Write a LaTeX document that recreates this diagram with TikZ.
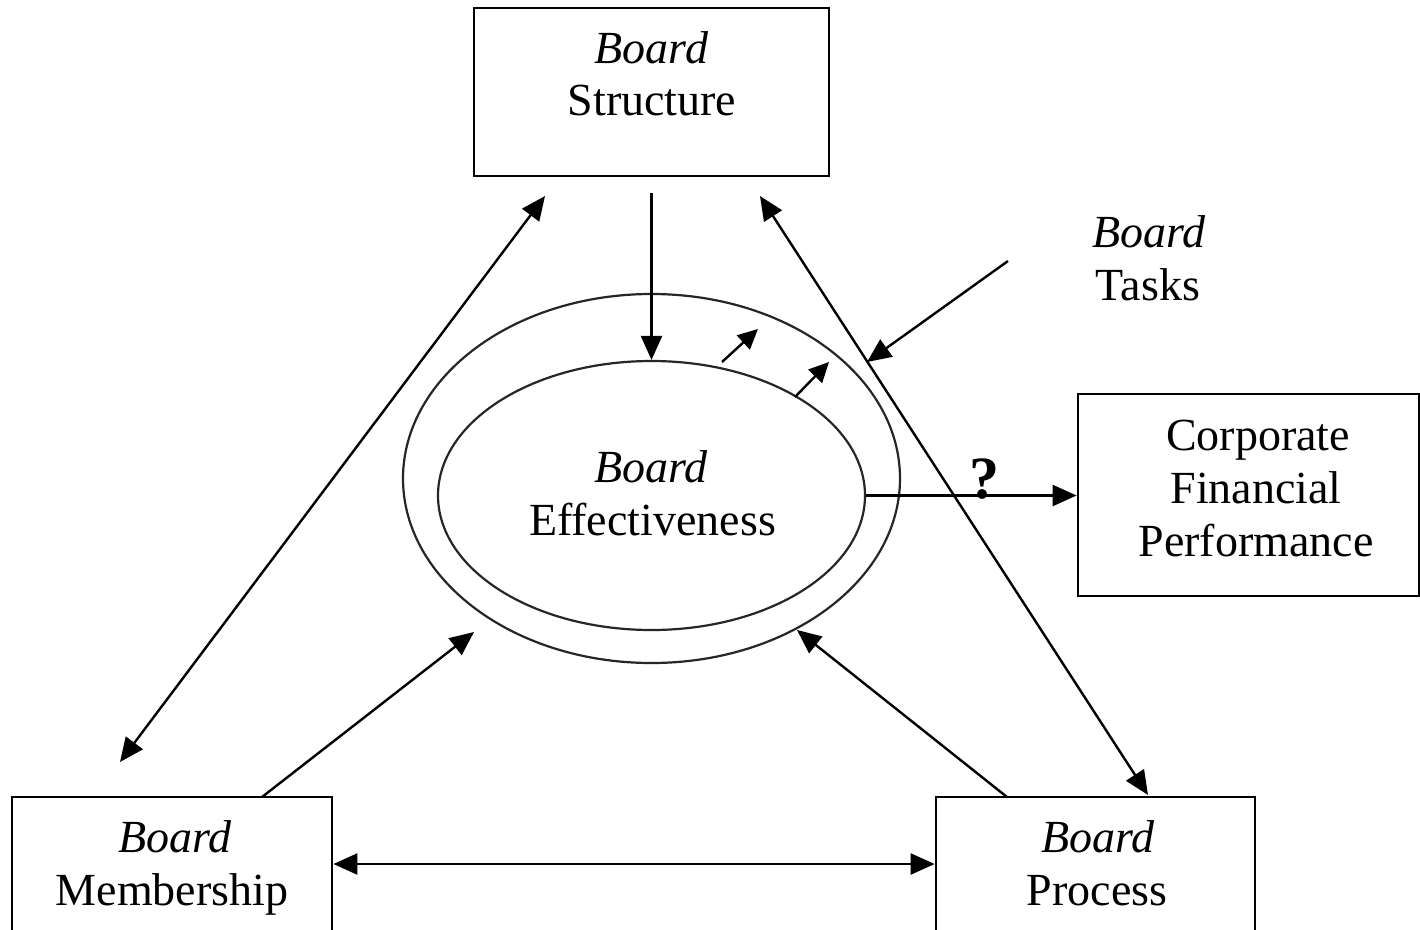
\documentclass[tikz,border=0pt]{standalone}
\usepackage{fontspec}
\setmainfont{Liberation Serif}
\usetikzlibrary{arrows.meta,shapes.geometric}
\begin{document}
\begin{tikzpicture}[x=1pt,y=-1pt,
  box/.style={draw,line width=2.8pt,rectangle,inner sep=0pt},
  lbl/.style={anchor=base,inner sep=0pt,font=\fontsize{46}{53}\selectfont},
  ell/.style={draw=black!85,ellipse,line width=2.2pt,inner sep=0pt},
  con/.style={line width=2.4pt,-{Triangle[length=24pt,width=21pt]}},
  dcon/.style={line width=2.4pt,{Triangle[length=24pt,width=21pt]}-{Triangle[length=24pt,width=21pt]}},
  smallcon/.style={line width=2.4pt,-{Triangle[length=20pt,width=19pt]}}]
\useasboundingbox (0,0) rectangle (1420,929);
\clip (0,0) rectangle (1420,929);
\fill[white] (0,0) rectangle (1420,929);

% boxes
\node[box,minimum width=355pt,minimum height=168pt] (struct) at (651.5,92) {};
\node[box,minimum width=341pt,minimum height=202pt] (corp) at (1248.5,495) {};
\node[box,minimum width=320pt,minimum height=163pt] (mem) at (172,878.5) {};
\node[box,minimum width=319pt,minimum height=163pt] (proc) at (1095.5,878.5) {};

% ellipses
\node[ell,minimum width=497pt,minimum height=369pt] (outer) at (651.5,478.5) {};
\node[ell,minimum width=427pt,minimum height=269pt] (inner) at (651.5,495.5) {};

% labels
\node[lbl] (t1a) at (651.5,63) {\textit{Board}};
\node[lbl] (t1b) at (652,115) {Structure};
\node[lbl] (t2a) at (651,482) {\textit{Board}};
\node[lbl] (t2b) at (652.5,535) {Effectiveness};
\node[lbl] (t3a) at (1149,247) {\textit{Board}};
\node[lbl] (t3b) at (1148,300) {Tasks};
\node[lbl] (t4a) at (1258,450) {Corporate};
\node[lbl] (t4b) at (1256,503) {Financial};
\node[lbl] (t4c) at (1256,556) {Performance};
\node[lbl] (t5a) at (175,852) {\textit{Board}};
\node[lbl] (t5b) at (172,905) {Membership};
\node[lbl] (t6a) at (1098,852) {\textit{Board}};
\node[lbl] (t6b) at (1097,905) {Process};
\node[anchor=base,inner sep=0pt,font=\fontsize{60}{60}\selectfont\bfseries] (q) at (984,498) {?};

% coordinates
\coordinate (sA) at (651.5,193);
\coordinate (tlA) at (545,196);
\coordinate (tlB) at (120,762);
\coordinate (trA) at (760,196);
\coordinate (trB) at (1148,795);
\coordinate (tkA) at (1008,261);
\coordinate (tkB) at (867,362);
\coordinate (s1A) at (722,362);
\coordinate (s1B) at (758,329);
\coordinate (s2A) at (795,397);
\coordinate (s2B) at (829,362);
\coordinate (mA) at (262,797);
\coordinate (mB) at (474,632);
\coordinate (pA) at (1007,797);
\coordinate (pB) at (797,630);
\coordinate (mp) at (0,864);

% connectors
\draw[con] (sA) -- (inner.north);
\draw[dcon] (tlA) -- (tlB);
\draw[dcon] (trA) -- (trB);
\draw[con] (tkA) -- (tkB);
\draw[smallcon] (s1A) -- (s1B);
\draw[smallcon] (s2A) -- (s2B);
\draw[con] (inner.east) -- (inner.east -| corp.west);
\draw[con] (mA) -- (mB);
\draw[con] (pA) -- (pB);
\draw[dcon] (mem.east |- mp) -- (proc.west |- mp);
\end{tikzpicture}
\end{document}
